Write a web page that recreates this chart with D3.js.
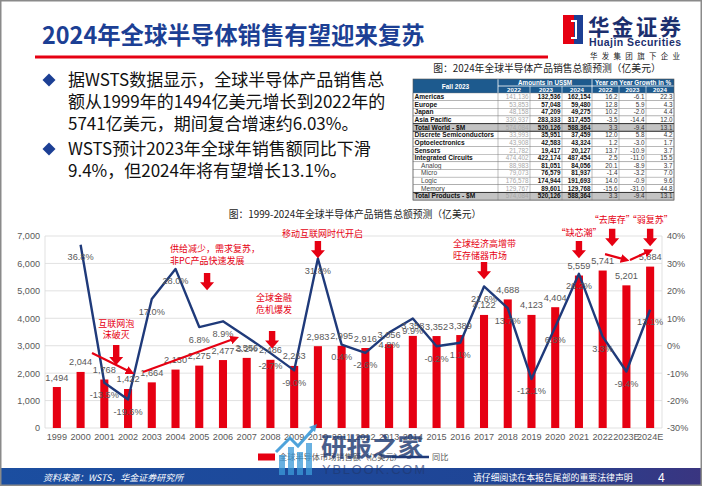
<!DOCTYPE html>
<html><head><meta charset="utf-8">
<script src="https://cdn.jsdelivr.net/npm/d3@7"></script>
<style>body{margin:0;background:#fff}svg{display:block}</style>
</head><body>
<svg id="c" width="702" height="486"></svg>
<script>
// ---------------- DATA ----------------
const years = ["1999","2000","2001","2002","2003","2004","2005","2006","2007","2008","2009","2010","2011","2012","2013","2014","2015","2016","2017","2018","2019","2020","2021","2022","2023E","2024E"];
const sales = [1494,2044,1768,1422,1664,2130,2275,2477,2556,2486,2263,2983,2995,2916,3056,3358,3352,3389,4122,4688,4123,4404,5559,5741,5201,5884];
const growth = [null,36.8,-13.5,-19.6,17.0,28.0,6.8,8.9,3.2,-2.7,-9.0,31.8,0.4,-2.6,4.8,9.9,-0.2,1.1,21.6,13.7,-12.1,6.8,26.2,3.3,-9.4,13.1];
const leftTicks = [0,1000,2000,3000,4000,5000,6000,7000];
const rightTicks = [-30,-20,-10,0,10,20,30,40];
const seriesNames = ["全球半导体市场销售额（亿美元）","同比"];

const tableRows = ["Americas","Europe","Japan","Asia Pacific","Total World - $M","Discrete Semiconductors","Optoelectronics","Sensors","Integrated Circuits","Analog","Micro","Logic","Memory","Total Products - $M"];
const amt2022 = ["141,136","53,853","48,158","330,937","574,084","33,993","43,908","21,782","474,402","88,983","79,073","176,578","129,767","574,084"];
const amt2023 = ["132,536","57,048","47,209","283,333","520,126","35,951","42,583","19,417","422,174","81,051","76,579","174,944","89,601","520,126"];
const amt2024 = ["162,154","59,480","49,275","317,455","588,364","37,459","43,324","20,127","487,454","84,056","81,937","191,693","129,768","588,364"];
const yoy2022 = ["16.2","12.8","10.2","-3.5","3.3","12.0","1.2","13.7","2.5","20.1","-1.4","14.0","-15.6","3.3"];
const yoy2023 = ["-6.1","5.9","-2.0","-14.4","-9.4","5.8","-3.0","-10.9","-11.0","-8.9","-3.2","-0.9","-31.0","-9.4"];
const yoy2024 = ["22.3","4.3","4.4","12.0","13.1","4.2","1.7","3.7","15.5","3.7","7.0","9.6","44.8","13.1"];
const tableYears = ["2022","2023","2024"];

const bullets = [
  ["据WSTS数据显示，全球半导体产品销售总","额从1999年的1494亿美元增长到2022年的","5741亿美元，期间复合增速约6.03%。"],
  ["WSTS预计2023年全球年销售额同比下滑","9.4%，但2024年将有望增长13.1%。"]
];

// ---------------- SETUP ----------------
const svg = d3.select("#c");
const RED = "#e60012", NAVY = "#1f3a7a", GREY = "#595959", TITLE = "#1c3f94";
const CJK = "'Noto Sans CJK SC','Noto Sans',sans-serif";
const LAT = "'Liberation Sans',Arial,sans-serif";

const defs = svg.append("defs");
const grad = defs.append("linearGradient").attr("id","foot").attr("x1","0").attr("x2","1");
grad.append("stop").attr("offset","0").attr("stop-color","#1b4ea0");
grad.append("stop").attr("offset","0.7").attr("stop-color","#1f4596");
grad.append("stop").attr("offset","1").attr("stop-color","#3a3580");
defs.append("marker").attr("id","ah").attr("viewBox","0 0 10 10").attr("refX",5).attr("refY",5)
  .attr("markerWidth",4).attr("markerHeight",4).attr("orient","auto")
  .append("path").attr("d","M0,0 L10,5 L0,10 Z").attr("fill",RED);

svg.append("rect").attr("x",0).attr("y",0).attr("width",702).attr("height",486).attr("fill","#fff");

// ---------------- HEADER ----------------
svg.append("text").attr("x",42).attr("y",44).attr("font-family",CJK).attr("font-weight","bold")
  .attr("font-size",23.4).attr("fill",TITLE).text("2024年全球半导体销售有望迎来复苏");
svg.append("rect").attr("x",35).attr("y",55.5).attr("width",513).attr("height",3).attr("fill",RED);

// logo
const lg = svg.append("g");
lg.append("rect").attr("x",563).attr("y",15).attr("width",20).attr("height",29).attr("fill",RED);
lg.append("rect").attr("x",574).attr("y",15).attr("width",9).attr("height",29).attr("fill","#1c3f94");
lg.append("path").attr("d","M571,21 L576,21 L576,38 L571,38").attr("fill","none").attr("stroke","#fff").attr("stroke-width",2);
lg.append("text").attr("x",588).attr("y",35).attr("font-family",CJK).attr("font-weight","bold").attr("font-size",21.5)
  .attr("fill","#1c2f6e").attr("textLength",93).text("华金证券");
lg.append("text").attr("x",589).attr("y",46).attr("font-family",LAT).attr("font-weight","bold").attr("font-size",10.5)
  .attr("fill","#1c2f6e").attr("textLength",92).text("Huajin Securities");
lg.append("text").attr("x",590).attr("y",59).attr("font-family",CJK).attr("font-size",7.5)
  .attr("fill","#222").attr("textLength",90).text("华发集团旗下企业");

// ---------------- BULLETS ----------------
const bulletBase = [[86,108,130],[155,177]];
bullets.forEach((blk,bi)=>{
  const cy = bulletBase[bi][0]-6;
  svg.append("path").attr("d",`M49,${cy-6.5} L55.5,${cy} L49,${cy+6.5} L42.5,${cy} Z`).attr("fill",TITLE);
  blk.forEach((ln,li)=>{
    svg.append("text").attr("x",68).attr("y",bulletBase[bi][li]).attr("font-family",CJK)
      .attr("font-size",17).attr("fill","#111").text(ln);
  });
});

// ---------------- TABLE ----------------
const tg = svg.append("g");
tg.append("text").attr("x",547).attr("y",72).attr("text-anchor","middle").attr("font-family",CJK)
  .attr("font-size",9.8).attr("fill","#222").text("图：2024年全球半导体产品销售总额预测（亿美元）");
const cx = [413,498,530,562,592,619,646,674];
const hTop = 79, hMid = 86, dTop = 93, rh = 7.65;
const HB = "#1d5a8e";
tg.append("rect").attr("x",cx[0]).attr("y",hTop).attr("width",cx[7]-cx[0]).attr("height",dTop-hTop).attr("fill",HB);
tg.append("line").attr("x1",cx[1]).attr("x2",cx[7]).attr("y1",hMid).attr("y2",hMid).attr("stroke","#fff").attr("stroke-width",0.8);
[1,4].forEach(i=>tg.append("line").attr("x1",cx[i]).attr("x2",cx[i]).attr("y1",hTop).attr("y2",dTop).attr("stroke","#fff").attr("stroke-width",0.8));
[2,3,5,6].forEach(i=>tg.append("line").attr("x1",cx[i]).attr("x2",cx[i]).attr("y1",hMid).attr("y2",dTop).attr("stroke","#fff").attr("stroke-width",0.6));
const TF = "'Liberation Sans Narrow','Liberation Sans',Arial,sans-serif";
tg.append("text").attr("x",(cx[0]+cx[1])/2).attr("y",88.5).attr("text-anchor","middle").attr("font-family",TF)
  .attr("font-weight","bold").attr("font-size",6.5).attr("fill","#fff").text("Fall 2023");
tg.append("text").attr("x",(cx[1]+cx[4])/2).attr("y",84.5).attr("text-anchor","middle").attr("font-family",TF)
  .attr("font-weight","bold").attr("font-size",6.3).attr("fill","#fff").text("Amounts in US$M");
tg.append("text").attr("x",(cx[4]+cx[7])/2).attr("y",84.5).attr("text-anchor","middle").attr("font-family",TF)
  .attr("font-weight","bold").attr("font-size",6.3).attr("fill","#fff").text("Year on Year Growth in %");
[1,2,3,4,5,6].forEach((c,k)=>{
  tg.append("text").attr("x",(cx[c]+cx[c+1])/2).attr("y",91.7).attr("text-anchor","middle").attr("font-family",TF)
    .attr("font-weight","bold").attr("font-size",6.2).attr("fill","#fff").text(tableYears[k%3]);
});
const cols = [amt2022,amt2023,amt2024,yoy2022,yoy2023,yoy2024];
tableRows.forEach((name,r)=>{
  const y = dTop + r*rh;
  const total = name.startsWith("Total");
  const sub = ["Analog","Micro","Logic","Memory"].includes(name);
  tg.append("rect").attr("x",cx[0]).attr("y",y).attr("width",cx[7]-cx[0]).attr("height",rh)
    .attr("fill",total?"#c3c3c3":"#fff").attr("stroke","#7a7a7a").attr("stroke-width",0.4);
  tg.append("text").attr("x",cx[0]+(sub?8:1.5)).attr("y",y+rh-1.7).attr("font-family",TF)
    .attr("font-weight",sub?"normal":"bold").attr("font-size",6.6).attr("fill",sub?"#444":"#111").text(name);
  cols.forEach((arr,k)=>{
    tg.append("text").attr("x",cx[k+1+1]-1.5).attr("y",y+rh-1.7).attr("text-anchor","end").attr("font-family",TF)
      .attr("font-weight",(k===1||k===2)?"bold":"normal").attr("font-size",6.3)
      .attr("fill",k===0?"#a8a8a8":(k>2?"#333":"#111")).text(arr[r]);
  });
});
for(let i=1;i<7;i++) tg.append("line").attr("x1",cx[i]).attr("x2",cx[i]).attr("y1",dTop).attr("y2",dTop+14*rh).attr("stroke","#7a7a7a").attr("stroke-width",0.5);
[4,5,13].forEach(r=>tg.append("line").attr("x1",cx[0]).attr("x2",cx[7]).attr("y1",dTop+r*rh).attr("y2",dTop+r*rh).attr("stroke","#333").attr("stroke-width",1));
tg.append("rect").attr("x",cx[0]).attr("y",hTop).attr("width",cx[7]-cx[0]).attr("height",dTop+14*rh-hTop).attr("fill","none").attr("stroke","#555").attr("stroke-width",0.6);

// ---------------- CHART ----------------
svg.append("text").attr("x",355).attr("y",217.5).attr("text-anchor","middle").attr("font-family",CJK)
  .attr("font-size",9.8).attr("fill","#222").text("图：1999-2024年全球半导体产品销售总额预测（亿美元）");

const pL = 45, pR = 662, pT = 236, pB = 428;
const x = d3.scaleBand().domain(years).range([pL,pR]).paddingInner(0.66).paddingOuter(0.33);
const step = x.step();
const xi = i => pL + step*(i+0.5);
const yL = d3.scaleLinear().domain([0,7000]).range([pB,pT]);
const yR = d3.scaleLinear().domain([-30,40]).range([pB,pT]);

const cg = svg.append("g");
cg.selectAll(".grid").data(leftTicks).join("line").attr("x1",pL).attr("x2",pR)
  .attr("y1",d=>yL(d)).attr("y2",d=>yL(d)).attr("stroke","#d9d9d9").attr("stroke-width",0.8);
cg.append("line").attr("x1",pL).attr("x2",pL).attr("y1",pT).attr("y2",pB).attr("stroke","#d9d9d9").attr("stroke-width",0.8);
cg.append("line").attr("x1",pR).attr("x2",pR).attr("y1",pT).attr("y2",pB).attr("stroke","#d9d9d9").attr("stroke-width",0.8);

const axL = cg.append("g").attr("transform",`translate(${pL},0)`)
  .call(d3.axisLeft(yL).tickValues(leftTicks).tickFormat(d3.format(",")).tickSize(0).tickPadding(5));
const axR = cg.append("g").attr("transform",`translate(${pR},0)`)
  .call(d3.axisRight(yR).tickValues(rightTicks).tickFormat(d=>d+"%").tickSize(0).tickPadding(5));
const axB = cg.append("g").attr("transform",`translate(0,${pB})`)
  .call(d3.axisBottom(x).tickSize(0).tickPadding(6));
[axL,axR,axB].forEach(a=>{
  a.select(".domain").remove();
  a.selectAll("text").attr("font-family",LAT).attr("font-size",9.1).attr("fill",GREY);
});

cg.selectAll(".bar").data(sales).join("rect").attr("x",(d,i)=>x(years[i])).attr("width",x.bandwidth())
  .attr("y",d=>yL(d)).attr("height",d=>pB-yL(d)).attr("fill",RED);

const pts = growth.map((g,i)=>({g,i})).filter(d=>d.g!==null);
cg.append("path").datum(pts).attr("fill","none").attr("stroke",NAVY).attr("stroke-width",2.4)
  .attr("stroke-linejoin","round")
  .attr("d",d3.line().x(d=>xi(d.i)).y(d=>yR(d.g)));

cg.selectAll(".bl").data(sales).join("text").attr("x",(d,i)=>xi(i)).attr("y",d=>yL(d)-6.5)
  .attr("text-anchor","middle").attr("font-family",LAT).attr("font-size",9.2).attr("fill",GREY)
  .text(d=>d3.format(",")(d));
cg.selectAll(".gl").data(pts).join("text").attr("x",d=>xi(d.i)).attr("y",d=>yR(d.g)+15.5)
  .attr("text-anchor","middle").attr("font-family",LAT).attr("font-size",9.2).attr("fill",GREY)
  .text(d=>d.g.toFixed(1)+"%");

// ---------------- ANNOTATIONS ----------------
const ag = svg.append("g");
const blockArrow = (i,v0,v1)=>{
  const c = xi(i), y0 = yL(v0), y1 = yL(v1);
  ag.append("path").attr("fill",RED)
    .attr("d",`M${c-3.2},${y0} L${c+3.2},${y0} L${c+3.2},${y1-8} L${c+7},${y1-8} L${c},${y1} L${c-7},${y1-8} L${c-3.2},${y1-8} Z`);
};
const note = (i,v,lines,anchor)=>{
  lines.forEach((t,k)=>ag.append("text").attr("x",xi(i)).attr("y",yL(v)+k*11.5).attr("text-anchor",anchor)
    .attr("font-family",CJK).attr("font-size",9).attr("fill",RED).text(t));
};
const diag = (i0,v0,i1,v1)=>{
  ag.append("line").attr("x1",xi(i0)).attr("y1",yL(v0)).attr("x2",xi(i1)).attr("y2",yL(v1))
    .attr("stroke",RED).attr("stroke-width",2.2).attr("marker-end","url(#ah)");
};
note(2.5,3700,["互联网泡","沫破灭"],"middle"); blockArrow(2.5,3030,2300);
note(4.77,6400,["供给减少，需求复苏，","非PC产品快速发展"],"start"); blockArrow(6.33,5650,5020);
note(8.39,4620,["全球金融","危机爆发"],"start"); blockArrow(9.07,3540,2900);
note(9.49,6950,["移动互联网时代开启"],"start"); blockArrow(11,6820,6190);
note(16.69,6590,["全球经济高增带","旺存储器市场"],"start"); blockArrow(18,6050,5420);
note(22,6990,["“缺芯潮”"],"middle"); blockArrow(22,6820,6190);
note(23.4,7460,["“去库存”"],"middle"); blockArrow(23.4,7260,6630);
note(25,7460,["“弱复苏”"],"middle"); blockArrow(25,7260,6630);
diag(1.48,2734,3.1,2040);
diag(3.63,2042,7.5,3260);
diag(23.1,6340,23.95,6140);
diag(24.15,6125,24.95,6440);

// ---------------- LEGEND ----------------
svg.append("rect").attr("x",258).attr("y",453.5).attr("width",17).attr("height",7).attr("fill",RED);
svg.append("text").attr("x",279).attr("y",460).attr("font-family",CJK).attr("font-size",8.2).attr("fill",GREY).text(seriesNames[0]);
svg.append("line").attr("x1",392).attr("x2",429).attr("y1",457).attr("y2",457).attr("stroke",NAVY).attr("stroke-width",2.4);
svg.append("text").attr("x",432).attr("y",460).attr("font-family",CJK).attr("font-size",8.2).attr("fill",GREY).text(seriesNames[1]);

// ---------------- FOOTER ----------------
svg.append("rect").attr("x",0).attr("y",468).attr("width",702).attr("height",18).attr("fill","url(#foot)");
svg.append("text").attr("x",43).attr("y",481).attr("font-family",CJK).attr("font-size",9).attr("font-style","italic")
  .attr("fill","#fff").text("资料来源：WSTS，华金证券研究所");
svg.append("text").attr("x",473).attr("y",481).attr("font-family",CJK).attr("font-size",8.9)
  .attr("fill","#fff").text("请仔细阅读在本报告尾部的重要法律声明");
svg.append("text").attr("x",658).attr("y",482).attr("font-family",LAT).attr("font-size",12)
  .attr("fill","#fff").text("4");

// ---------------- WATERMARK ----------------
const wm = svg.append("g").attr("opacity",0.9);
[[279,455,6,20],[288,447,6,28],[297,452,6,23],[306,443,6,32]].forEach(([bx,by,bw,bh])=>
  wm.append("rect").attr("x",bx).attr("y",by).attr("width",bw).attr("height",bh).attr("fill","#3c9ad8").attr("opacity",0.85));
wm.append("path").attr("d","M276,452 L290,438 L298,446 L314,428").attr("fill","none").attr("stroke","#3c9ad8").attr("stroke-width",3);
wm.append("path").attr("d","M309,427 L317,424 L315,432 Z").attr("fill","#3c9ad8");
wm.append("text").attr("x",321).attr("y",456).attr("font-family",CJK).attr("font-weight","bold").attr("font-size",25.5)
  .attr("fill","#1f3a72").attr("opacity",0.9).text("研报之家");
wm.append("text").attr("x",322).attr("y",474).attr("font-family",LAT).attr("font-size",13)
  .attr("fill","#1f3a72").attr("opacity",0.75).attr("textLength",103).text("YBLOOK.COM");

// frame
svg.append("rect").attr("x",0.75).attr("y",0.75).attr("width",700.5).attr("height",484.5).attr("fill","none").attr("stroke","#8a8a8a").attr("stroke-width",1.5);
</script>
</body></html>
